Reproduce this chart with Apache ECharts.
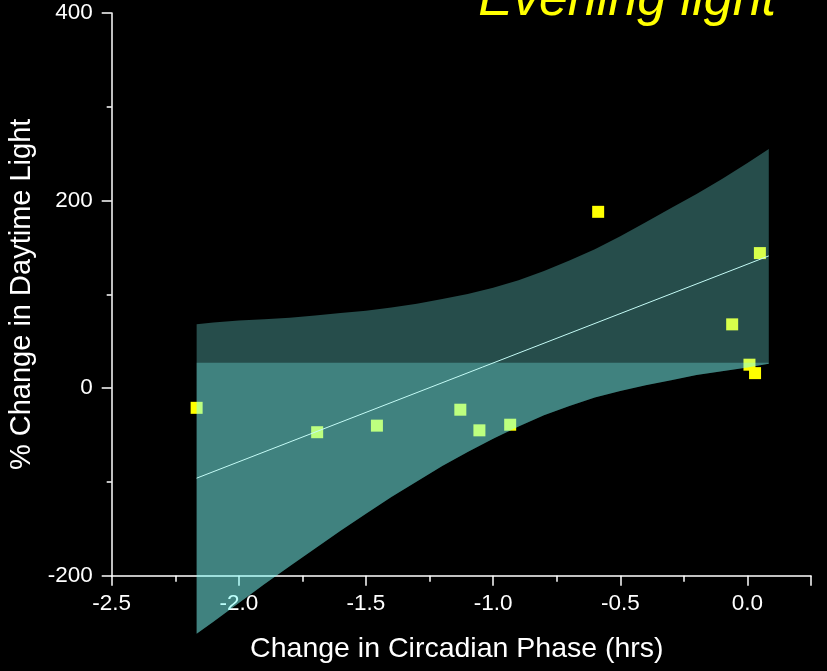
<!DOCTYPE html>
<html>
<head>
<meta charset="utf-8">
<script src="https://cdn.jsdelivr.net/npm/echarts@6/dist/echarts.min.js"></script>
<style>
html,body{margin:0;padding:0;background:#000;}
#chart{width:827px;height:671px;}
</style>
</head>
<body>
<div id="chart"></div>
<script>
// ---- data ----
const phaseX = [-2.166, -1.692, -1.457, -1.129, -1.054, -0.933, -0.587, -0.060, 0.008, 0.030, 0.049];
const lightY = [-21, -47, -40, -23, -45, -39, 188, 68, 25, 16, 144];

const fitX = [-2.166, 0.084];
const fitY = [-96, 141];

const bandX     = [-2.166, -2.1, -2.0, -1.9, -1.8, -1.7, -1.6, -1.5, -1.4, -1.3, -1.2, -1.1, -1.0, -0.9, -0.8, -0.7, -0.6, -0.5, -0.4, -0.3, -0.2, -0.1, 0.0, 0.084];
const bandUpper = [68, 70, 72, 73.5, 75, 77.5, 80, 82.5, 86, 90, 95, 100.5, 107, 115, 125, 136, 148, 162, 177, 192, 207, 223, 240, 255];
const bandLower = [-262, -249, -229, -209, -190, -171, -152, -134, -116, -99.5, -83, -68, -54, -41, -29, -19, -10, -3, 3, 8.5, 14, 18, 22, 26];
const bandSplit = 27;

const xTicks = { min: -2.5, max: 0.25, interval: 0.5 };
const yTicks = { min: -200, max: 400, interval: 200 };

const titleText = 'Evening light';
const xName = 'Change in Circadian Phase (hrs)';
const yName = '% Change in Daytime Light';

// ---- chart ----
const chart = echarts.init(document.getElementById('chart'));
const FONT = '"Liberation Sans", Arial, sans-serif';
const bandFill = 'rgba(125,255,250,0.3)';

function bandRender(params, api) {
  const full = [];
  for (let i = 0; i < bandX.length; i++) full.push(api.coord([bandX[i], bandUpper[i]]));
  for (let i = bandX.length - 1; i >= 0; i--) full.push(api.coord([bandX[i], bandLower[i]]));
  const low = [];
  for (let i = 0; i < bandX.length; i++) low.push(api.coord([bandX[i], bandSplit]));
  for (let i = bandX.length - 1; i >= 0; i--) low.push(api.coord([bandX[i], bandLower[i]]));
  return {
    type: 'group',
    children: [
      { type: 'polygon', shape: { points: full }, style: { fill: bandFill } },
      { type: 'polygon', shape: { points: low }, style: { fill: bandFill } }
    ]
  };
}

const option = {
  backgroundColor: '#000',
  animation: false,
  grid: { left: 111.7, right: 16, top: 13, bottom: 95.3, containLabel: false, outerBoundsMode: 'none' },
  graphic: [{
    type: 'text',
    right: 51,
    top: -25,
    style: {
      text: titleText,
      fill: '#ffff00',
      font: 'italic 52px ' + FONT
    }
  }],
  xAxis: {
    type: 'value',
    min: xTicks.min, max: xTicks.max, interval: xTicks.interval,
    name: xName, nameLocation: 'middle', nameGap: 59,
    nameTextStyle: { color: '#fff', fontSize: 28.5, fontFamily: FONT, padding: [0, 9, 0, 0] },
    axisLine: { onZero: false, lineStyle: { color: '#fff', width: 1.5 } },
    axisTick: { show: true, length: 10, lineStyle: { color: '#fff', width: 1.5 } },
    minorTick: { show: true, splitNumber: 2, length: 6, lineStyle: { color: '#fff', width: 1.5 } },
    axisLabel: { color: '#fff', fontSize: 22.5, fontFamily: FONT, margin: 17, showMaxLabel: false,
      formatter: v => v.toFixed(1) },
    splitLine: { show: false }
  },
  yAxis: {
    type: 'value',
    min: yTicks.min, max: yTicks.max, interval: yTicks.interval,
    name: yName, nameLocation: 'middle', nameGap: 74,
    nameTextStyle: { color: '#fff', fontSize: 29, fontFamily: FONT },
    axisLine: { onZero: false, lineStyle: { color: '#fff', width: 1.5 } },
    axisTick: { show: true, length: 10, lineStyle: { color: '#fff', width: 1.5 } },
    minorTick: { show: true, splitNumber: 2, length: 5, lineStyle: { color: '#fff', width: 1.5 } },
    axisLabel: { color: '#fff', fontSize: 22.5, fontFamily: FONT, margin: 19 },
    splitLine: { show: false }
  },
  series: [
    {
      type: 'scatter',
      z: 2,
      symbol: 'rect',
      symbolSize: 12,
      itemStyle: { color: '#ffff00', opacity: 1 },
      data: phaseX.map((x, i) => [x, lightY[i]])
    },
    {
      type: 'custom',
      z: 3,
      renderItem: bandRender,
      data: [[bandX[0], bandUpper[0]]],
      silent: true
    },
    {
      type: 'line',
      z: 4,
      symbol: 'none',
      lineStyle: { color: '#c4fbf6', width: 1 },
      data: fitX.map((x, i) => [x, fitY[i]])
    }
  ]
};
chart.setOption(option);
</script>
</body>
</html>
